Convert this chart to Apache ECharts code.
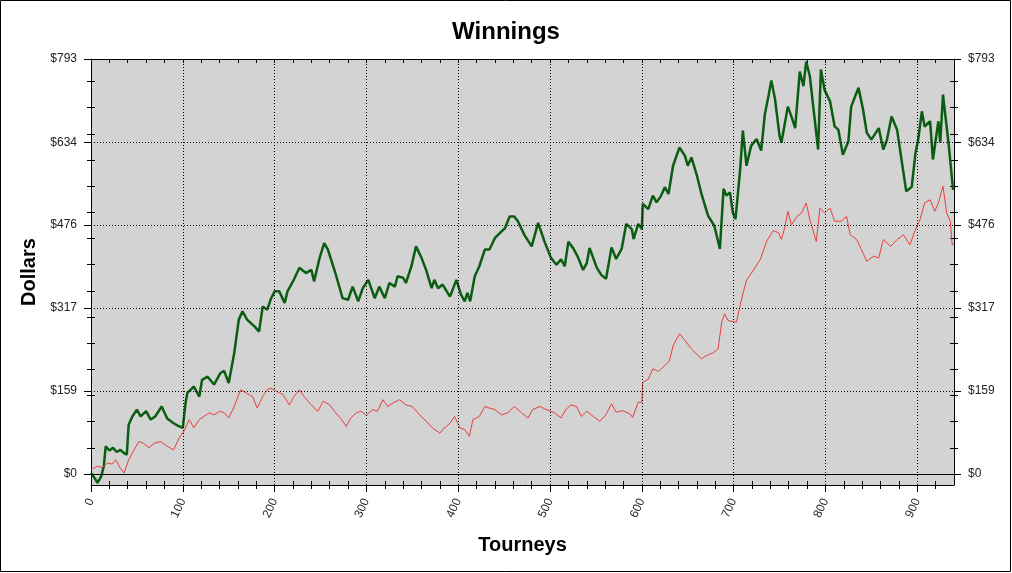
<!DOCTYPE html>
<html>
<head>
<meta charset="utf-8">
<script src="https://cdn.jsdelivr.net/npm/echarts@6.0.0/dist/echarts.min.js"></script>
<style>
html,body{margin:0;padding:0;background:#fff;}
#c{width:1012px;height:573px;}
</style>
</head>
<body>
<div id="c"></div>
<script>
// ---- data ----
const greenX = [0,4,7,11,14,16,20,24,28,32,36,39,41,45,50,54,60,65,70,77,83,90,95,100,103,105,112,118,121,127,134,141,145,150,156,161,165,170,178,183,187,192,196,200,205,211,214,220,227,234,240,243,249,254,258,266,274,280,285,291,296,302,309,314,320,325,331,334,340,343,349,354,360,365,371,374,378,383,391,398,403,407,410,413,418,423,429,434,440,445,451,456,461,465,472,480,487,494,501,507,512,516,520,525,530,536,540,543,551,556,561,567,572,578,583,589,591,596,600,601,607,612,616,621,625,629,634,641,647,650,654,660,665,672,679,685,689,692,696,699,702,707,710,714,719,725,730,734,738,741,745,750,752,759,763,767,772,776,779,783,792,795,799,805,810,814,819,825,828,836,841,845,850,858,863,867,872,878,885,888,894,898,901,905,908,914,917,923,925,928,934,939];
const greenY = [2,-8,-17,-5,15,53,45,50,42,46,40,37,94,110,123,110,120,104,110,129,106,97,92,88,136,155,167,148,180,186,171,193,197,174,231,295,311,295,282,272,320,314,335,349,349,327,349,368,394,384,390,368,413,441,429,385,336,333,358,330,355,371,336,358,336,365,358,378,375,365,397,435,413,390,355,371,355,362,339,371,343,330,346,330,378,397,429,429,451,460,470,492,492,483,457,435,480,444,413,400,410,397,444,432,416,390,403,432,394,380,373,433,411,430,478,468,449,478,468,516,506,532,519,532,548,535,589,624,608,589,605,570,535,494,474,430,545,532,538,500,487,580,656,589,627,640,618,688,723,752,717,646,633,702,683,661,769,741,788,760,620,773,734,712,664,658,610,636,702,738,696,652,639,661,620,639,683,658,575,540,549,613,639,693,664,674,601,674,633,725,633,543];
const redX = [0,4,7,12,18,23,27,32,36,41,47,52,57,63,69,76,83,90,96,101,107,112,118,123,129,134,140,145,150,156,163,169,176,181,187,192,196,202,209,216,221,227,232,240,247,253,260,265,273,278,283,289,294,300,307,312,318,323,329,336,343,350,358,365,372,380,383,391,396,402,407,412,416,423,429,434,440,447,454,461,469,476,481,489,496,505,512,517,523,529,534,540,547,554,560,567,572,579,587,590,596,600,601,607,612,618,623,630,634,641,647,654,665,670,678,683,687,690,694,703,707,710,714,721,729,736,743,749,752,756,759,763,769,774,779,783,790,794,799,805,810,817,823,827,834,841,845,852,858,863,871,878,885,892,898,903,908,914,919,923,928,932,936,938,940];
const redY = [8,12,15,12,21,19,27,11,2,27,46,62,59,50,59,62,53,46,69,81,104,88,104,110,117,113,120,117,107,129,161,155,148,126,148,161,164,158,152,132,148,161,148,132,120,139,132,120,104,91,107,117,120,113,123,120,142,129,136,142,132,129,113,101,88,78,85,97,110,88,85,72,104,110,129,126,123,113,117,129,117,107,123,129,123,117,107,123,132,129,110,120,110,101,111,134,118,121,115,108,137,137,175,181,201,196,204,216,245,268,255,239,220,226,232,239,290,306,293,290,322,344,370,388,410,445,465,461,448,473,502,476,492,499,518,486,444,508,499,508,483,483,492,457,448,422,406,416,413,448,435,448,457,438,467,486,518,524,502,518,550,499,483,438,440];
const yLabels = [0,159,317,476,634,793];
const yMinor = [50,100,150,200,250,300,350,400,450,500,550,600,650,700,750];
const xLabels = [0,100,200,300,400,500,600,700,800,900];
const xMinor = [20,40,60,80,120,140,160,180,220,240,260,280,320,340,360,380,420,440,460,480,520,540,560,580,620,640,660,680,720,740,760,780,820,840,860,880,920];
const xTop = [20,40,60,80,100,120,140,160,180,200,220,240,260,280,300,320,340,360,380,400,420,440,460,480,500,520,540,560,580,600,620,640,660,680,700,720,740,760,780,800,820,840,860,880,900,920];

const FONT = 'Liberation Sans, Arial, sans-serif';
const Y_MIN = -21, Y_MAX = 793, X_MIN = 0, X_MAX = 940;
const greenData = greenX.map((x, i) => [x, greenY[i]]);
const redData = redX.map((x, i) => [x, redY[i]]);

function yAx(pos, kind) {
  const a = {
    type: 'value', position: pos, min: Y_MIN, max: Y_MAX,
    splitLine: { show: false },
    axisLine: { show: kind === 'major', onZero: false, lineStyle: { color: '#000', width: 1 } },
    axisLabel: { show: false },
    axisTick: { show: true, lineStyle: { color: '#000', width: 1 } }
  };
  if (kind === 'major') {
    a.axisTick.customValues = yLabels; a.axisTick.length = 7; a.axisTick.inside = false;
    a.axisLabel = { show: true, customValues: yLabels, formatter: v => '$' + v, margin: 14,
      color: '#222', fontSize: 12, fontFamily: FONT };
  } else {
    a.axisTick.customValues = yMinor; a.axisTick.length = 4; a.axisTick.inside = (kind === 'in');
  }
  return a;
}
function xAx(pos, kind) {
  const a = {
    type: 'value', position: pos, min: X_MIN, max: X_MAX,
    splitLine: { show: false },
    axisLine: { show: kind === 'major' || kind === 'top', onZero: false, lineStyle: { color: '#000', width: 1 } },
    axisLabel: { show: false },
    axisTick: { show: true, lineStyle: { color: '#000', width: 1 } }
  };
  if (kind === 'major') {
    a.axisTick.customValues = xLabels; a.axisTick.length = 7;
    a.axisLabel = { show: true, customValues: xLabels, rotate: 65, margin: 14,
      color: '#222', fontSize: 12, fontFamily: FONT };
    a.name = 'Tourneys'; a.nameLocation = 'middle'; a.nameGap = 50;
    a.nameTextStyle = { fontSize: 20, fontWeight: 'bold', color: '#000', fontFamily: FONT };
  } else if (kind === 'top') {
    a.axisTick.customValues = xTop; a.axisTick.length = 4; a.axisTick.inside = true;
  } else {
    a.axisTick.customValues = xMinor; a.axisTick.length = 4; a.axisTick.inside = (kind === 'in');
  }
  return a;
}

const yAxes = [yAx('left','major'), yAx('left','out'), yAx('left','in'), yAx('right','major'), yAx('right','out'), yAx('right','in')];
yAxes[0].name = 'Dollars'; yAxes[0].nameLocation = 'middle'; yAxes[0].nameGap = 52; yAxes[0].nameRotate = 90;
yAxes[0].nameTextStyle = { fontSize: 20, fontWeight: 'bold', color: '#000', fontFamily: FONT };

const gridMarks = [];
xLabels.filter(v => v > X_MIN).forEach(v => gridMarks.push({ xAxis: v }));
yLabels.filter(v => v > 0 && v < Y_MAX).forEach(v => gridMarks.push({ yAxis: v }));

const chart = echarts.init(document.getElementById('c'), null, { renderer: 'canvas' });
chart.setOption({
  animation: false,
  backgroundColor: '#fff',
  title: { text: 'Winnings', left: 'center', top: 15,
    textStyle: { fontSize: 24, fontWeight: 'bold', color: '#000', fontFamily: FONT } },
  grid: { left: 91, right: 58, top: 59, bottom: 88, show: true, backgroundColor: '#d3d3d3', borderWidth: 0 },
  xAxis: [xAx('bottom','major'), xAx('bottom','out'), xAx('bottom','in'), xAx('top','top')],
  yAxis: yAxes,
  graphic: [{ type: 'rect', shape: { x: 0.5, y: 0.5, width: 1010, height: 571 },
    style: { fill: null, stroke: '#000', lineWidth: 1 }, silent: true, z: 100 }],
  series: [
    { type: 'line', name: 'grid', data: [], silent: true,
      markLine: { silent: true, symbol: 'none', label: { show: false }, animation: false,
        lineStyle: { color: '#000', type: [1, 2], width: 1 }, data: gridMarks } },
    { type: 'line', name: 'zero', data: [], silent: true,
      markLine: { silent: true, symbol: 'none', label: { show: false }, animation: false,
        lineStyle: { color: '#000', type: 'solid', width: 1 }, data: [{ yAxis: 0 }] } },
    { type: 'line', name: 'Green', data: greenData, showSymbol: false, smooth: false,
      lineStyle: { color: '#0b5d12', width: 2.5 }, itemStyle: { color: '#0b5d12' }, z: 3 },
    { type: 'line', name: 'Red', data: redData, showSymbol: false, smooth: false,
      lineStyle: { color: '#e5403e', width: 1 }, itemStyle: { color: '#e5403e' }, z: 4 }
  ]
});
</script>
</body>
</html>
